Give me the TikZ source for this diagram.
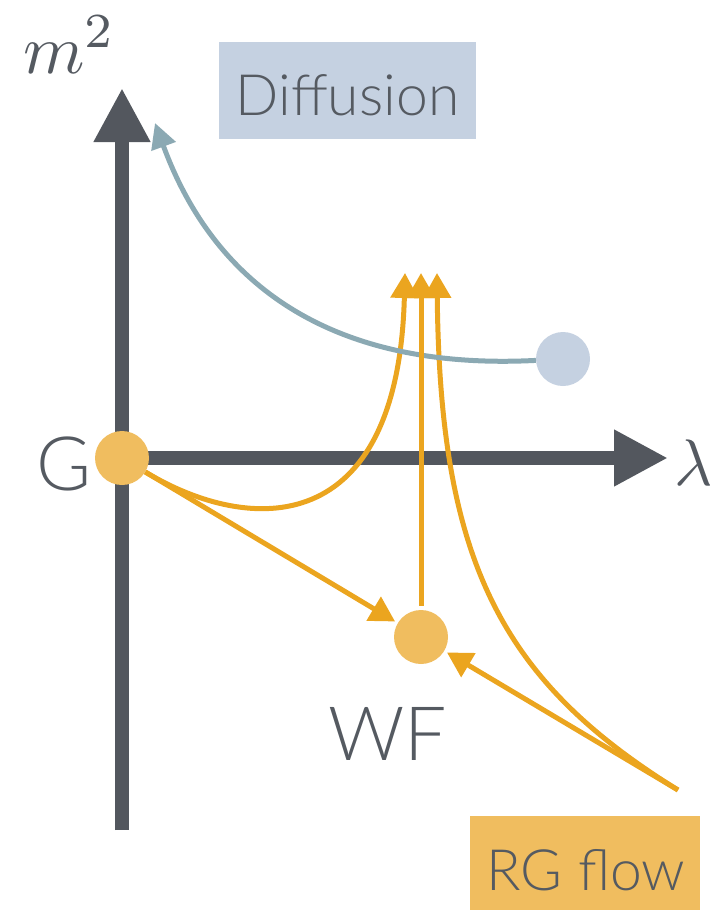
\documentclass[tikz,border=0pt]{standalone}
\usepackage[no-math]{fontspec}
\setmainfont{Lato Light}
\usetikzlibrary{arrows.meta}
\definecolor{axisgray}{HTML}{53575E}
\definecolor{txtgray}{HTML}{555A61}
\definecolor{flowor}{HTML}{EBA51F}
\definecolor{dotor}{HTML}{F0BD5F}
\definecolor{diffbl}{HTML}{C5D1E1}
\definecolor{curvebl}{HTML}{8BA9B3}
\begin{document}
\begin{tikzpicture}[x=1pt,y=-1pt,
  axis/.style={line width=14pt, draw=axisgray, -{Triangle[length=54pt,width=53pt]}},
  flow/.style={line width=5pt, draw=flowor, -{Triangle[length=25pt,width=27pt]}},
  diffcurve/.style={line width=5pt, draw=curvebl, -{Triangle[length=25pt,width=25pt]}},
  dot/.style={circle, minimum size=54pt, inner sep=0pt},
  tagbox/.style={inner sep=0pt},
  lbl/.style={text=txtgray, font=\fontsize{75}{80}\selectfont, anchor=base, inner sep=0pt},
  boxlbl/.style={text=txtgray, font=\fontsize{57}{60}\selectfont, anchor=base, inner sep=0pt},
  mathlbl/.style={text=txtgray, scale=7, anchor=base west, inner sep=0pt}
]
\useasboundingbox (0,0) rectangle (715,910);

% axes
\coordinate (origin) at (122,458);
\coordinate (ybottom) at (122,830);
\coordinate (ytip) at (122,88);
\coordinate (xtip) at (668,458);
\draw[axis] (ybottom) -- (ytip);
\draw[axis] (origin) -- (xtip);
\node[mathlbl] (mlabel) at (22,73) {$m^2$};
\node[mathlbl, scale=0.94] (lamlabel) at (673,485) {$\lambda$};

% boxes
\node[tagbox, fill=diffbl, minimum width=257pt, minimum height=97pt] (diffbox) at (347.5,90.5) {};
\node[boxlbl] (difftext) at (347.5,115) {Diffusion};
\node[tagbox, fill=dotor, minimum width=230pt, minimum height=114pt] (rgbox) at (585,873) {};
\node[boxlbl] (rgtext) at (586,890) {RG flow};

% fixed points
\node[dot, fill=dotor] (G) at (122,458) {};
\node[dot, fill=dotor] (WF) at (421,637) {};
\node[dot, fill=diffbl] (D) at (563,359) {};
\node[lbl] (Gtext) at (64,490) {G};
\node[lbl] (WFtext) at (388,760) {WF};

% flows
\coordinate (tipA) at (405,273);
\coordinate (tipB) at (421,273);
\coordinate (tipC) at (437,273);
\coordinate (rgstart) at (678,790);
\coordinate (difftip) at (155,123);

\draw[flow] (G) .. controls (250,535) and (398,540) .. (tipA);
\draw[flow] (rgstart) .. controls (500,680) and (440,560) .. (tipC);
\draw[diffcurve] (D) .. controls (350,370) and (220,300) .. (difftip);
\draw[flow, shorten <=4pt] (WF) -- (tipB);
\draw[flow, shorten >=3pt] (G) -- (WF);
\draw[flow, shorten >=3pt] (rgstart) -- (WF);
\end{tikzpicture}
\end{document}
